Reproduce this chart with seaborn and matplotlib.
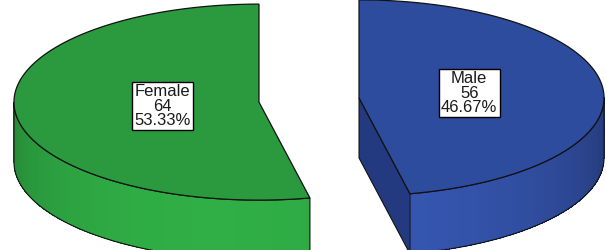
import numpy as np
import matplotlib
matplotlib.use("Agg")
import matplotlib.pyplot as plt
import seaborn as sns
from matplotlib.patches import Polygon
from matplotlib.colors import to_rgb

# ---- data ----
categories = ["Female", "Male"]
counts = [64, 56]
top_colors = ["#2b9a3f", "#2e4c9e"]
side_colors = ["#2ea843", "#3454ad"]
cut_colors = ["#1f7a31", "#233a80"]

sns.set_theme(style="white")
plt.rcParams['font.family'] = ['Liberation Sans', 'DejaVu Sans']

W, H = 606, 250
fig = plt.figure(figsize=(W / 100, H / 100), dpi=100)
ax = fig.add_axes([0, 0, 1, 1])
ax.set_xlim(0, W)
ax.set_ylim(0, H)
ax.axis("off")

# geometry of the (unexploded) pie, in pixel units, y up
cx, cy = 309, 150
a, b = 245, 98
depth = 60
explode = 50.3
light = np.deg2rad(260)

total = sum(counts)
start = 90.0
edge = "#111111"


def rim(theta_deg, ox, oy, dz=0.0):
    t = np.deg2rad(theta_deg)
    return cx + ox + a * np.cos(t), cy + oy + b * np.sin(t) - dz


for i, (cat, val) in enumerate(zip(categories, counts)):
    span = 360.0 * val / total
    s, e = start, start + span
    m = (s + e) / 2
    mr = np.deg2rad(m)
    ox = explode * np.cos(mr)
    oy = explode * (b / a) * np.sin(mr)
    ccx, ccy = cx + ox, cy + oy

    # visible cut faces
    for ang, nrm in ((s, s - 90), (e, e + 90)):
        if np.sin(np.deg2rad(nrm)) < -1e-6:
            px, py = rim(ang, ox, oy)
            pts = [(ccx, ccy), (px, py), (px, py - depth), (ccx, ccy - depth)]
            ax.add_patch(Polygon(pts, closed=True, facecolor=cut_colors[i],
                                 edgecolor=edge, lw=0.8, zorder=2))

    # visible outer side (front half of rim)
    base = np.array(to_rgb(side_colors[i]))
    for k in range(-1, 3):
        lo = max(s, 180 + 360 * k)
        hi = min(e, 360 + 360 * k)
        if hi <= lo:
            continue
        th = np.linspace(lo, hi, 60)
        for j in range(len(th) - 1):
            t0, t1 = th[j], th[j + 1]
            tm = np.deg2rad((t0 + t1) / 2)
            shade = 0.74 + 0.30 * max(0.0, np.cos(tm - light))
            col = np.clip(base * shade, 0, 1)
            p0 = rim(t0, ox, oy)
            p1 = rim(min(t1 + 0.3, hi), ox, oy)
            pts = [p0, p1, (p1[0], p1[1] - depth), (p0[0], p0[1] - depth)]
            ax.add_patch(Polygon(pts, closed=True, facecolor=col,
                                 edgecolor="none", lw=0, antialiased=False,
                                 zorder=2))
        tops = [rim(t, ox, oy) for t in th]
        bots = [rim(t, ox, oy, depth) for t in th[::-1]]
        ax.add_patch(Polygon(tops + bots, closed=True, facecolor="none",
                             edgecolor=edge, lw=0.8, zorder=3))

    # top surface
    th = np.linspace(s, e, 200)
    pts = [(ccx, ccy)] + [rim(t, ox, oy) for t in th]
    ax.add_patch(Polygon(pts, closed=True, facecolor=top_colors[i],
                         edgecolor=edge, lw=0.9, zorder=4))

    # label at the centroid of the sector
    half = np.deg2rad(span / 2)
    rc = 2 * np.sin(half) / (3 * half)
    lx = ccx + rc * a * np.cos(mr)
    ly = ccy + rc * b * np.sin(mr)
    pct = 100.0 * val / total
    ax.text(lx, ly, f"{cat}\n{val}\n{pct:.2f}%", ha="center", va="center",
            fontsize=12, color="#1a1a1a", linespacing=0.95, zorder=6,
            bbox=dict(boxstyle="square,pad=0.14", facecolor="white",
                      edgecolor="black", lw=1.0))

    start = e

fig.savefig("out.png", dpi=100)
